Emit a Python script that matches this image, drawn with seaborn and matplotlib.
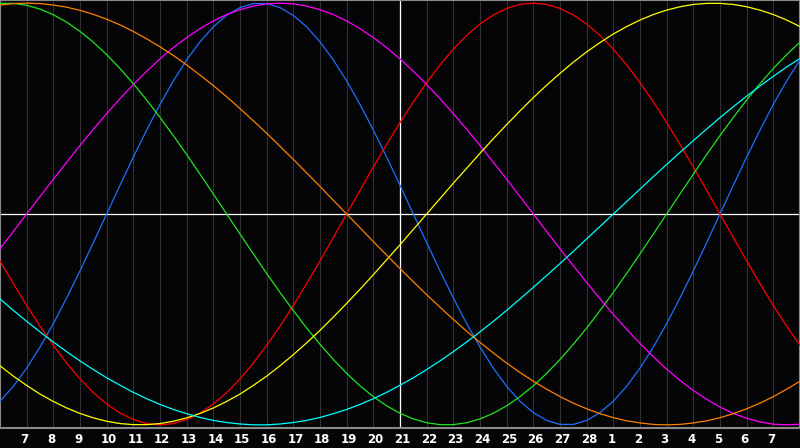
import numpy as np
import pandas as pd
import matplotlib
matplotlib.use("Agg")
import matplotlib.pyplot as plt
import matplotlib.transforms as mtransforms
import seaborn as sns

# biorhythm-style curves, every half day (values x1000)
# 30 days shown: day 6 at the left edge, day 7 of next month near the right
blue = [-888, -817, -731, -631, -520, -398, -270, -136, 0, 136, 270, 398, 520, 631, 731, 817,
        888, 942, 979, 998, 998, 979, 942, 888, 817, 731, 631, 520, 398, 270, 136, 0, -136,
        -270, -398, -520, -631, -731, -817, -888, -942, -979, -998, -998, -979, -942, -888,
        -817, -731, -631, -520, -398, -270, -136, 0, 136, 270, 398, 520, 631, 731]
red = [-223, -330, -434, -532, -623, -707, -782, -847, -901, -944, -975, -994, -1000, -994,
       -975, -944, -901, -847, -782, -707, -623, -532, -434, -330, -223, -112, 0, 112, 223, 330,
       434, 532, 623, 707, 782, 847, 901, 944, 975, 994, 1000, 994, 975, 944, 901, 847, 782,
       707, 623, 532, 434, 330, 223, 112, 0, -112, -223, -330, -434, -532, -623]
green = [999, 999, 990, 972, 945, 910, 866, 815, 756, 690, 618, 541, 458, 372, 282, 189, 95, 0,
         -95, -189, -282, -372, -458, -541, -618, -690, -756, -815, -866, -910, -945, -972, -990,
         -999, -999, -990, -972, -945, -910, -866, -815, -756, -690, -618, -541, -458, -372,
         -282, -189, -95, 0, 95, 189, 282, 372, 458, 541, 618, 690, 756, 815]
magenta = [-165, -83, 0, 83, 165, 245, 325, 402, 476, 547, 614, 677, 736, 789, 837, 879, 916,
           946, 969, 986, 997, 1000, 997, 986, 969, 946, 916, 879, 837, 789, 736, 677, 614, 547,
           476, 402, 325, 245, 165, 83, 0, -83, -165, -245, -325, -402, -476, -547, -614, -677,
           -736, -789, -837, -879, -916, -946, -969, -986, -997, -1000, -997]
yellow = [-720, -769, -813, -854, -889, -920, -946, -967, -983, -994, -999, -999, -994, -983,
          -967, -946, -920, -889, -854, -813, -769, -720, -667, -611, -552, -489, -424, -357,
          -288, -217, -146, -73, 0, 73, 146, 217, 288, 357, 424, 489, 552, 611, 667, 720, 769,
          813, 854, 889, 920, 946, 967, 983, 994, 999, 999, 994, 983, 967, 946, 920, 889]
orange = [991, 998, 1000, 998, 991, 981, 966, 947, 924, 897, 866, 831, 793, 752, 707, 659, 609,
          556, 500, 442, 383, 321, 259, 195, 131, 65, 0, -65, -131, -195, -259, -321, -383,
          -442, -500, -556, -609, -659, -707, -752, -793, -831, -866, -897, -924, -947, -966,
          -981, -991, -998, -1000, -998, -991, -981, -966, -947, -924, -897, -866, -831, -793]
cyan = [-403, -457, -509, -559, -607, -653, -697, -738, -777, -812, -846, -876, -903, -927, -947,
        -965, -979, -989, -996, -1000, -1000, -996, -989, -979, -965, -947, -927, -903, -876,
        -846, -812, -777, -738, -697, -653, -607, -559, -509, -457, -403, -348, -292, -235,
        -177, -118, -59, 0, 59, 118, 177, 235, 292, 348, 403, 457, 509, 559, 607, 653, 697, 738]

day_labels = [7, 8, 9, 10, 11, 12, 13, 14, 15, 16, 17, 18, 19, 20, 21, 22, 23, 24,
              25, 26, 27, 28, 1, 2, 3, 4, 5, 6, 7]

series = {"blue": blue, "red": red, "green": green, "magenta": magenta,
          "yellow": yellow, "orange": orange, "cyan": cyan}
colors = ["#1e6eff", "#ff0000", "#1ee61e", "#ff00ff", "#ffff00", "#ff8000", "#00ffff"]

day = np.arange(len(blue)) * 0.5
df = pd.concat(
    [pd.DataFrame({"curve": k, "day": day, "value": np.array(v) / 1000}) for k, v in series.items()],
    ignore_index=True,
)

bg = "#050508"
fig = plt.figure(figsize=(8, 4.48), dpi=100, facecolor=bg)
ax = fig.add_axes([0, 20 / 448, 1, 428 / 448], facecolor=bg)

# day grid, plus the white "today" line and zero line
for d in range(1, 30):
    ax.axvline(d, color="#303030", lw=0.8, zorder=1)
ax.axvline(15, color="white", lw=0.9, zorder=2)
ax.axhline(0, color="white", lw=0.9, zorder=2)

sns.lineplot(data=df, x="day", y="value", hue="curve", hue_order=list(series),
             palette=colors, ax=ax, legend=False, lw=0.9, zorder=3)

ax.set_xlim(0, 30)
ax.set_ylim(-1.015, 1.015)
ax.set_xticks([])
ax.set_yticks([])
ax.set_xlabel("")
ax.set_ylabel("")
for sp in ax.spines.values():
    sp.set_color("#8a8a8a")
    sp.set_linewidth(1.5)

trans = mtransforms.blended_transform_factory(ax.transData, ax.transAxes)
for i, lab in enumerate(day_labels, start=1):
    ax.text(i - 0.225, -11 / 428, str(lab), transform=trans, ha="left", va="center",
            color="white", fontsize=8.5, fontweight="bold", family="DejaVu Sans")

fig.savefig("out.png", facecolor=bg)
plt.close(fig)
